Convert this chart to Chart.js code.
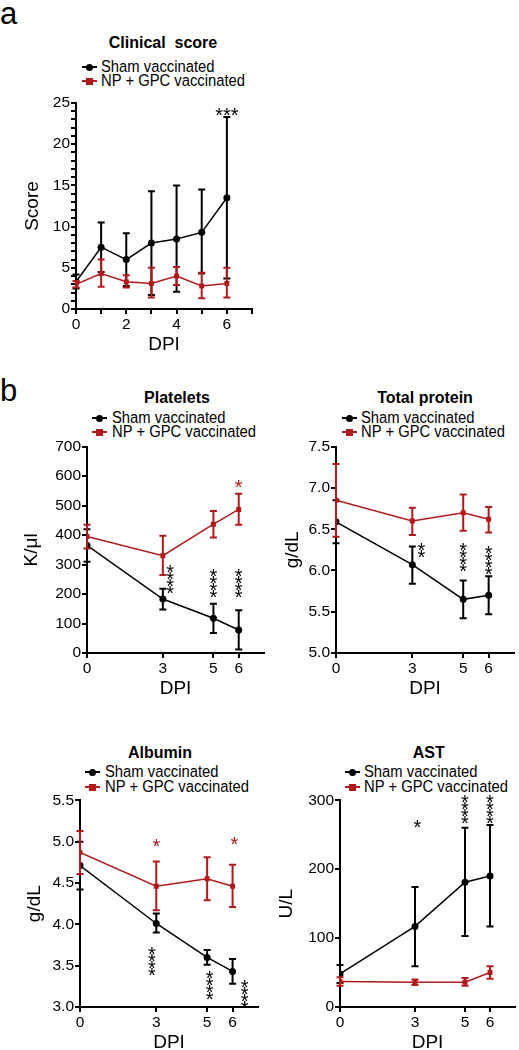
<!DOCTYPE html>
<html><head><meta charset="utf-8">
<script src="https://cdn.jsdelivr.net/npm/chart.js@4.4.1/dist/chart.umd.min.js"></script>
<style>
body{margin:0;background:#fff;width:519px;height:1050px;position:relative;overflow:hidden;font-family:"Liberation Sans",Arial,sans-serif;}
canvas{position:absolute;}
.t{position:absolute;white-space:pre;color:#000;line-height:1;}
.title{font-weight:bold;font-size:16px;transform:translateX(-50%);}
.leg{font-size:14.8px;transform:scaleY(1.06);transform-origin:left center;}
.letter{font-size:31px;}
.ln{position:absolute;height:2px;width:15px;}
.mk{position:absolute;width:7px;height:7px;}
</style></head><body>
<script>
// ---------- DATA ----------
const clinDays = [0,1,2,3,4,5,6];
const clinSham = [3.3,7.5,6.0,8.0,8.5,9.3,13.5];
const clinShamLo = [2.5,4.5,2.8,1.7,2.1,4.3,3.7];
const clinShamHi = [4.2,10.5,9.2,14.3,15.0,14.5,23.3];
const clinVac = [3.0,4.3,3.3,3.1,4.0,2.8,3.1];
const clinVacLo = [2.6,2.7,2.6,1.4,2.9,1.3,1.4];
const clinVacHi = [3.4,6.0,4.1,5.0,5.1,4.4,5.0];

const labDays = [0,3,5,6];
const platSham = [365,183,118,78];
const platShamLo = [310,148,68,12];
const platShamHi = [420,218,167,145];
const platVac = [395,330,437,487];
const platVacLo = [355,265,392,435];
const platVacHi = [435,398,482,540];

const tpSham = [6.59,6.07,5.65,5.70];
const tpShamLo = [6.33,5.84,5.42,5.47];
const tpShamHi = [6.85,6.29,5.88,5.93];
const tpVac = [6.85,6.60,6.70,6.62];
const tpVacLo = [6.41,6.43,6.48,6.46];
const tpVacHi = [7.29,6.76,6.92,6.77];

const albSham = [4.71,4.01,3.60,3.43];
const albShamLo = [4.42,3.90,3.51,3.28];
const albShamHi = [5.00,4.13,3.69,3.58];
const albVac = [4.87,4.46,4.55,4.46];
const albVacLo = [4.61,4.17,4.29,4.21];
const albVacHi = [5.13,4.76,4.81,4.72];

const astSham = [48,117,181,190];
const astShamLo = [35,59,103,117];
const astShamHi = [61,174,260,264];
const astVac = [37,36,36,50];
const astVacLo = [31,32,31,41];
const astVacHi = [43,40,42,59];

const clinYTicks = [0,1,2,3,4,5,6,7,8,9,10,11,12,13,14,15,16,17,18,19,20,21,22,23,24,25];
const clinXTicks = [0,1,2,3,4,5,6,7];
const labXTicks = [0,3,5,6];
const platYTicks = [0,100,200,300,400,500,600,700];
const tpYTicks = [5.0,5.5,6.0,6.5,7.0,7.5];
const albYTicks = [3.0,3.5,4.0,4.5,5.0,5.5];
const astYTicks = [0,100,200,300];

const seriesNames = ['Sham vaccinated','NP + GPC vaccinated'];
const BLACK = '#000000', RED = '#b01a1c';

// significance marks
const clinStars = [{x:6,y:24.1,t:'***',c:BLACK,v:false}];
const platStars = [{x:3.29,y:254,t:'****',c:BLACK,v:true},{x:5,y:240,t:'****',c:BLACK,v:true},{x:6,y:240,t:'****',c:BLACK,v:true},{x:6,y:578,t:'*',c:RED,v:true}];
const tpStars = [{x:3.36,y:6.26,t:'**',c:BLACK,v:true},{x:5,y:6.17,t:'****',c:BLACK,v:true},{x:6,y:6.13,t:'****',c:BLACK,v:true}];
const albStars = [{x:2.83,y:3.57,t:'****',c:BLACK,v:true},{x:5.1,y:3.28,t:'****',c:BLACK,v:true},{x:6.47,y:3.16,t:'****',c:BLACK,v:true},{x:3,y:5.0,t:'*',c:RED,v:true},{x:6.07,y:5.02,t:'*',c:RED,v:true}];
const astStars = [{x:3.1,y:268,t:'*',c:BLACK,v:true},{x:5,y:288,t:'****',c:BLACK,v:true},{x:6,y:288,t:'****',c:BLACK,v:true}];

// ---------- plugins ----------
const errPlugin = {
  id:'err',
  afterDatasetDraw(chart, args){
    const ds = chart.data.datasets[args.index];
    if(!ds.lo) return;
    const xs = chart.scales.x, ys = chart.scales.y, ctx = chart.ctx;
    ctx.save(); ctx.strokeStyle = ds.borderColor; ctx.lineWidth = 2;
    ds.data.forEach((p,i)=>{
      const px = xs.getPixelForValue(p.x);
      const y1 = ys.getPixelForValue(ds.lo[i]), y2 = ys.getPixelForValue(ds.hi[i]);
      ctx.beginPath();
      ctx.moveTo(px,y1); ctx.lineTo(px,y2);
      ctx.moveTo(px-3.5,y1); ctx.lineTo(px+3.5,y1);
      ctx.moveTo(px-3.5,y2); ctx.lineTo(px+3.5,y2);
      ctx.stroke();
    });
    ctx.restore();
  }
};
const starPlugin = {
  id:'stars',
  afterDraw(chart, args, opts){
    const items = opts.items || [];
    const ctx = chart.ctx, xs = chart.scales.x, ys = chart.scales.y;
    ctx.save();
    const fs = 20;
    ctx.font = fs + 'px "Liberation Sans", Arial, sans-serif';
    ctx.textAlign = 'center'; ctx.textBaseline = 'alphabetic';
    items.forEach(it=>{
      const px = xs.getPixelForValue(it.x), py = ys.getPixelForValue(it.y);
      ctx.fillStyle = it.c;
      if(it.v){
        const n = it.t.length, sp = 7;
        for(let k=0;k<n;k++){
          const cy = py - (n-1)*sp/2 + k*sp;
          ctx.fillText('*', px, cy + 0.56*fs);
        }
      } else {
        ctx.fillText(it.t, px, py + 0.56*fs);
      }
    });
    ctx.restore();
  }
};

function pts(xs, ys){ return xs.map((x,i)=>({x:x,y:ys[i]})); }

function addText(cls, txt, x, y, fs, extra){
  const d = document.createElement('div');
  d.className = 't ' + cls;
  d.textContent = txt;
  d.style.left = x + 'px';
  d.style.top = (y - 0.4885*fs) + 'px';
  if(extra) Object.assign(d.style, extra);
  document.body.appendChild(d);
}
function addLegend(lx, tx, y1, y2){
  [[y1,BLACK,true,seriesNames[0]],[y2,RED,false,seriesNames[1]]].forEach(([y,c,circ,name])=>{
    const l = document.createElement('div'); l.className='ln';
    l.style.left = lx+'px'; l.style.top = (y-1)+'px'; l.style.background = c;
    document.body.appendChild(l);
    const m = document.createElement('div'); m.className='mk';
    m.style.left = (lx+7.5-3.5)+'px'; m.style.top = (y-3.5)+'px'; m.style.background = c;
    if(circ) m.style.borderRadius='50%';
    document.body.appendChild(m);
    addText('leg', name, tx, y, 14.8);
  });
}

const FONT = '"Liberation Sans", Arial, sans-serif';
function makeChart(L, d){
  const cv = document.createElement('canvas');
  cv.width = L.cw; cv.height = L.ch;
  cv.style.left = L.cl+'px'; cv.style.top = L.ct+'px';
  cv.style.width = L.cw+'px'; cv.style.height = L.ch+'px';
  document.body.appendChild(cv);
  const off = 9.5;
  const padLeft = L.yTitleX - off - L.cl;
  const yWidth = L.axisX - L.cl - padLeft;
  const padTop = L.top - L.ct;
  const padRight = L.cl + L.cw - L.right;
  const xHeight = (L.xTitleY + off) - L.bottom;
  const padBottom = L.ct + L.ch - (L.xTitleY + off);
  const tickFont = {family:FONT, size:15.5};
  const titleFont = {family:FONT, size:19, lineHeight:1};
  new Chart(cv, {
    type:'line',
    data:{datasets:[
      {label:seriesNames[0], data:pts(d.days,d.sham), lo:d.shamLo, hi:d.shamHi, borderColor:BLACK, backgroundColor:BLACK,
       borderWidth:1.5, pointStyle:'circle', pointRadius:3.5, pointBackgroundColor:BLACK, pointBorderWidth:0, order:2, tension:0},
      {label:seriesNames[1], data:pts(d.days,d.vac), lo:d.vacLo, hi:d.vacHi, borderColor:RED, backgroundColor:RED,
       borderWidth:1.5, pointStyle:'rect', pointRadius:3.5, pointBackgroundColor:RED, pointBorderWidth:0, order:1, tension:0}
    ]},
    options:{
      responsive:false, animation:false, devicePixelRatio:1,
      layout:{padding:{left:padLeft, top:padTop, right:padRight, bottom:padBottom}},
      plugins:{legend:{display:false}, tooltip:{enabled:false}, stars:{items:d.stars}},
      scales:{
        x:{type:'linear', min:0, max:7,
           afterBuildTicks:s=>{ s.ticks = d.xTicks.map(v=>({value:v})); },
           afterFit:s=>{ s.height = xHeight; },
           grid:{drawOnChartArea:false, drawTicks:true, tickLength:5, color:BLACK, lineWidth:2},
           border:{display:true, color:BLACK, width:2},
           ticks:{autoSkip:false, maxRotation:0, padding:1, color:BLACK, font:tickFont, callback:d.xLabel},
           title:{display:true, text:'DPI', color:BLACK, font:titleFont, padding:0}},
        y:{type:'linear', min:d.yMin, max:d.yMax,
           afterBuildTicks:s=>{ s.ticks = d.yTicks.map(v=>({value:v})); },
           afterFit:s=>{ s.width = yWidth; },
           grid:{drawOnChartArea:false, drawTicks:true, tickLength:5, color:BLACK, lineWidth:2},
           border:{display:true, color:BLACK, width:2},
           ticks:{autoSkip:false, padding:1, color:BLACK, font:tickFont, callback:d.yLabel},
           title:{display:true, text:d.yTitle, color:BLACK, font:titleFont, padding:0}}
      }
    },
    plugins:[errPlugin, starPlugin]
  });
}

// ---------- Panel a ----------
addText('letter','a',0,13,31);
addText('title','Clinical  score',163,43,16);
addLegend(82,101,67,81);
makeChart({cl:0,ct:90,cw:262,ch:280,axisX:76,top:103,bottom:309,right:252,yTitleX:33,xTitleY:345},
  {days:clinDays, sham:clinSham, shamLo:clinShamLo, shamHi:clinShamHi, vac:clinVac, vacLo:clinVacLo, vacHi:clinVacHi,
   xTicks:clinXTicks, yTicks:clinYTicks, yMin:0, yMax:25, yTitle:'Score', stars:clinStars,
   xLabel:v=>(v%2===0 && v<=6)?String(v):'', yLabel:v=>(v%5===0)?String(v):''});

// ---------- Panel b ----------
addText('letter','b',0,390,31);
addText('title','Platelets',177,398,16);
addLegend(92,112,418,432);
makeChart({cl:0,ct:436,cw:268,ch:270,axisX:87,top:446.7,bottom:653,right:264.3,yTitleX:32,xTitleY:689},
  {days:labDays, sham:platSham, shamLo:platShamLo, shamHi:platShamHi, vac:platVac, vacLo:platVacLo, vacHi:platVacHi,
   xTicks:labXTicks, yTicks:platYTicks, yMin:0, yMax:700, yTitle:'K/\u03bcl', stars:platStars,
   xLabel:v=>String(v), yLabel:v=>String(v)});

addText('title','Total protein',425,398,16);
addLegend(342,361,418,432);
makeChart({cl:262,ct:436,cw:257,ch:270,axisX:336,top:446.7,bottom:653,right:514.1,yTitleX:292.5,xTitleY:689},
  {days:labDays, sham:tpSham, shamLo:tpShamLo, shamHi:tpShamHi, vac:tpVac, vacLo:tpVacLo, vacHi:tpVacHi,
   xTicks:labXTicks, yTicks:tpYTicks, yMin:5, yMax:7.5, yTitle:'g/dL', stars:tpStars,
   xLabel:v=>String(v), yLabel:v=>Number(v).toFixed(1)});

addText('title','Albumin',160,753,16);
addLegend(85,105,772,787);
makeChart({cl:0,ct:790,cw:262,ch:260,axisX:80,top:800,bottom:1007,right:258.5,yTitleX:35,xTitleY:1043},
  {days:labDays, sham:albSham, shamLo:albShamLo, shamHi:albShamHi, vac:albVac, vacLo:albVacLo, vacHi:albVacHi,
   xTicks:labXTicks, yTicks:albYTicks, yMin:3, yMax:5.5, yTitle:'g/dL', stars:albStars,
   xLabel:v=>String(v), yLabel:v=>Number(v).toFixed(1)});

addText('title','AST',428.7,753,16);
addLegend(345,364,772,787);
makeChart({cl:262,ct:790,cw:257,ch:260,axisX:340,top:800,bottom:1007,right:518.2,yTitleX:286.7,xTitleY:1043},
  {days:labDays, sham:astSham, shamLo:astShamLo, shamHi:astShamHi, vac:astVac, vacLo:astVacLo, vacHi:astVacHi,
   xTicks:labXTicks, yTicks:astYTicks, yMin:0, yMax:300, yTitle:'U/L', stars:astStars,
   xLabel:v=>String(v), yLabel:v=>String(v)});
</script>
</body></html>
